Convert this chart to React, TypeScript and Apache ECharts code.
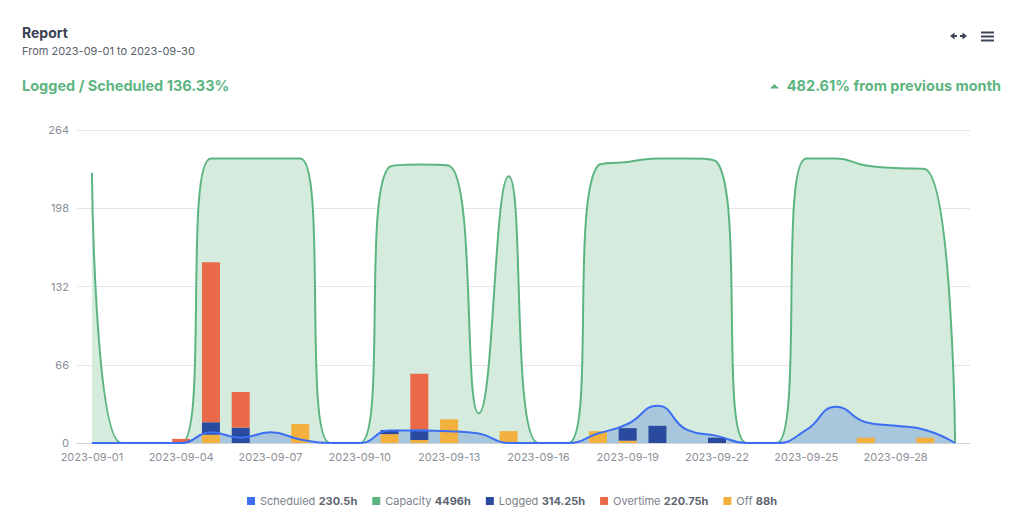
import React, { useEffect, useRef } from "react";
import * as echarts from "echarts";

const dates = [
  "2023-09-01", "2023-09-02", "2023-09-03", "2023-09-04", "2023-09-05", "2023-09-06",
  "2023-09-07", "2023-09-08", "2023-09-09", "2023-09-10", "2023-09-11", "2023-09-12",
  "2023-09-13", "2023-09-14", "2023-09-15", "2023-09-16", "2023-09-17", "2023-09-18",
  "2023-09-19", "2023-09-20", "2023-09-21", "2023-09-22", "2023-09-23", "2023-09-24",
  "2023-09-25", "2023-09-26", "2023-09-27", "2023-09-28", "2023-09-29", "2023-09-30",
];

const capacity = [228, 0, 0, 0, 240, 240, 240, 240, 0, 0, 233, 235, 234, 25, 225, 0, 0, 234, 237, 240, 240, 237, 0, 0, 240, 240, 234, 232, 231, 0];
const scheduled = [0, 0, 0, 0, 9, 4.5, 9, 3, 0, 0, 10.5, 10.5, 10, 8, 0, 0, 0, 8, 16, 31.5, 11, 6, 0, 0, 11, 30.5, 17.5, 14.5, 11, 0];
const logged = [0, 0, 0, 0, 10.5, 13, 0, 0, 0, 0, 3.5, 9, 0, 0, 0, 0, 0, 0, 10.5, 14.5, 0, 4.5, 0, 0, 0, 0, 0, 0, 0, 0];
const overtime = [0, 0, 0, 3.5, 135, 30, 0, 0, 0, 0, 0, 47, 0, 0, 0, 0, 0, 0, 0, 0, 0, 0, 0, 0, 0, 0, 0, 0, 0, 0];
const off = [0, 0, 0, 0, 7, 0, 0, 16, 0, 0, 7.5, 2.5, 20, 0, 10, 0, 0, 10, 2, 0, 0, 0, 0, 0, 0, 0, 4.5, 0, 4.5, 0];

const legendNames = ["Scheduled", "Capacity", "Logged", "Overtime", "Off"];
const legendTotals = ["230.5h", "4496h", "314.25h", "220.75h", "88h"];

const titleText = "Report";
const subtitleText = "From 2023-09-01 to 2023-09-30";
const ratioText = "Logged / Scheduled 136.33%";
const changeText = "482.61% from previous month";

const yMax = 264;
const yStep = 66;

const C_SCHED = "#3d6ff2";
const C_CAP = "#5cb581";
const C_LOGGED = "#2a4a9f";
const C_OVER = "#ea6948";
const C_OFF = "#f2b13f";
const FONT = "Inter, 'Noto Sans', sans-serif";

export default function App() {
  const ref = useRef<HTMLDivElement>(null);

  useEffect(() => {
    if (!ref.current) return;
    const chart = echarts.init(ref.current, null, { renderer: "svg" });
    const totalsByName: Record<string, string> = {};
    legendNames.forEach((n, i) => (totalsByName[n] = legendTotals[i]));

    const option: any = {
      animation: false,
      backgroundColor: "#ffffff",
      textStyle: { fontFamily: FONT },
      grid: { left: 77, right: 54, top: 130, bottom: 85, containLabel: false },
      legend: {
        data: legendNames,
        left: "center",
        top: 490,
        icon: "rect",
        itemWidth: 8,
        itemHeight: 8,
        itemGap: 15,
        formatter: (name: string) => `{n|${name}} {v|${totalsByName[name]}}`,
        textStyle: {
          fontFamily: FONT,
          rich: {
            n: { color: "#7b818c", fontSize: 11, fontFamily: FONT },
            v: { color: "#5d6470", fontSize: 11, fontWeight: "bold", fontFamily: FONT },
          },
        },
      },
      xAxis: {
        type: "category",
        data: dates,
        boundaryGap: true,
        axisLine: { lineStyle: { color: "#d0d3d8" } },
        axisTick: { alignWithLabel: true, interval: 2, lineStyle: { color: "#d0d3d8" } },
        axisLabel: { interval: 2, color: "#8a8f98", fontSize: 11, fontFamily: FONT, margin: 8 },
        splitLine: { show: false },
      },
      yAxis: {
        type: "value",
        min: 0,
        max: yMax,
        interval: yStep,
        axisLine: { show: false },
        axisTick: { show: false },
        axisLabel: { color: "#8a8f98", fontSize: 11, fontFamily: FONT, margin: 8 },
        splitLine: { lineStyle: { color: "#e3e5e8" } },
      },
      graphic: [
        { type: "text", left: 22, top: 25, style: { text: titleText, font: `bold 14px ${FONT}`, fill: "#3a4154" } },
        { type: "text", left: 22, top: 45, style: { text: subtitleText, font: `11px ${FONT}`, fill: "#5a606b" } },
        { type: "text", left: 22, top: 78, style: { text: ratioText, font: `bold 14.5px ${FONT}`, fill: "#5cb581" } },
        { type: "text", right: 23, top: 78, style: { text: changeText, font: `bold 14.5px ${FONT}`, fill: "#5cb581" } },
        { type: "polygon", shape: { points: [[770, 88.5], [779, 88.5], [774.5, 84]] }, style: { fill: "#5cb581" } },
        // expand icon
        { type: "polygon", shape: { points: [[950, 36], [954.5, 32.5], [954.5, 39.5]] }, style: { fill: "#3d4457" } },
        { type: "rect", shape: { x: 954, y: 35, width: 3, height: 2 }, style: { fill: "#3d4457" } },
        { type: "polygon", shape: { points: [[967, 36], [962.5, 32.5], [962.5, 39.5]] }, style: { fill: "#3d4457" } },
        { type: "rect", shape: { x: 960, y: 35, width: 3, height: 2 }, style: { fill: "#3d4457" } },
        // menu icon
        { type: "rect", shape: { x: 981, y: 31.5, width: 13, height: 2 }, style: { fill: "#3d4457" } },
        { type: "rect", shape: { x: 981, y: 35.5, width: 13, height: 2 }, style: { fill: "#3d4457" } },
        { type: "rect", shape: { x: 981, y: 39.5, width: 13, height: 2 }, style: { fill: "#3d4457" } },
      ],
      series: [
        {
          name: "Capacity",
          type: "line",
          data: capacity,
          smooth: true,
          symbol: "none",
          z: 1,
          itemStyle: { color: C_CAP },
          lineStyle: { color: C_CAP, width: 2 },
          areaStyle: { color: "#d4ebde", opacity: 1 },
        },
        {
          name: "Scheduled",
          type: "line",
          data: scheduled,
          smooth: true,
          symbol: "none",
          z: 2,
          itemStyle: { color: C_SCHED },
          lineStyle: { width: 0 },
          areaStyle: { color: "#a9c7dc", opacity: 1 },
        },
        {
          name: "Off",
          type: "bar",
          stack: "hours",
          data: off,
          barWidth: 18,
          z: 3,
          itemStyle: { color: C_OFF },
        },
        {
          name: "Logged",
          type: "bar",
          stack: "hours",
          data: logged,
          barWidth: 18,
          z: 3,
          itemStyle: { color: C_LOGGED },
        },
        {
          name: "Overtime",
          type: "bar",
          stack: "hours",
          data: overtime,
          barWidth: 18,
          z: 3,
          itemStyle: { color: C_OVER },
        },
        {
          name: "Scheduled",
          type: "line",
          data: scheduled,
          smooth: true,
          symbol: "none",
          z: 4,
          itemStyle: { color: C_SCHED },
          lineStyle: { color: C_SCHED, width: 2 },
        },
      ],
    };
    chart.setOption(option);
    return () => chart.dispose();
  }, []);

  return <div ref={ref} style={{ width: 1024, height: 528, position: "absolute", left: 0, top: 0 }} />;
}
